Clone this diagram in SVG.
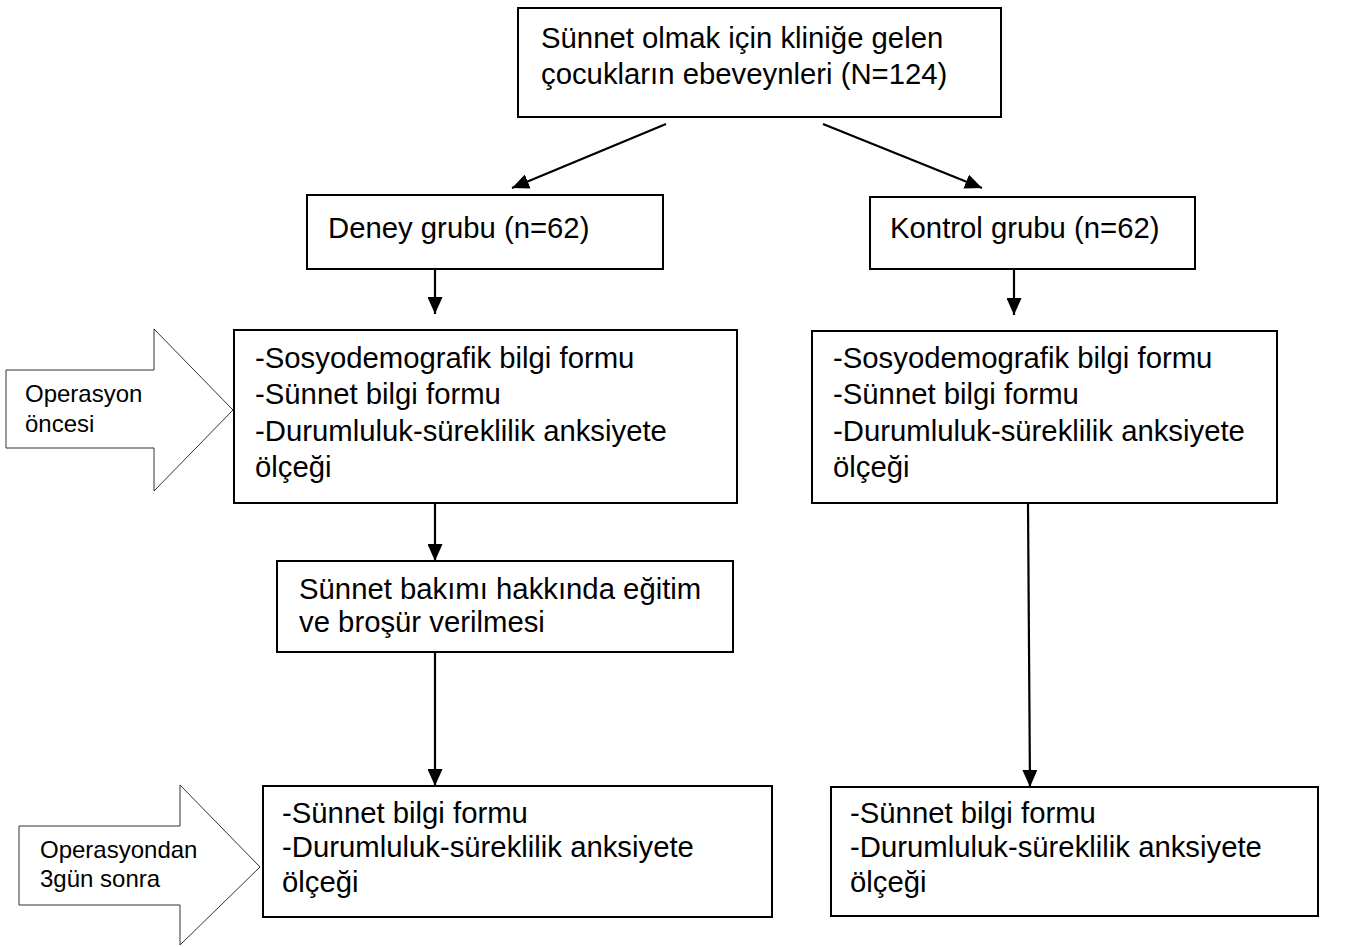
<svg xmlns="http://www.w3.org/2000/svg" width="1358" height="947" viewBox="0 0 1358 947">
<style>
.box{fill:#fff;stroke:#000;stroke-width:2}
.blk{fill:#fff;stroke:#333;stroke-width:1}
.t{font-family:"Liberation Sans",Arial,sans-serif;font-size:29.3px;fill:#000}
.s{font-family:"Liberation Sans",Arial,sans-serif;font-size:24px;fill:#000}
.c{fill:none;stroke:#000;stroke-width:2.2}
</style>
<defs>
<marker id="ah" markerUnits="userSpaceOnUse" markerWidth="17" markerHeight="15" refX="17" refY="7.5" orient="auto">
<path d="M0,0 L17,7.5 L0,15 z" fill="#000"/>
</marker>
</defs>
<rect width="1358" height="947" fill="#fff"/>
<g id="connectors">
<line class="c" x1="666" y1="124" x2="512" y2="188" marker-end="url(#ah)"/>
<line class="c" x1="823" y1="124" x2="982" y2="188" marker-end="url(#ah)"/>
<line class="c" x1="435" y1="269" x2="435" y2="314" marker-end="url(#ah)"/>
<line class="c" x1="1014" y1="270" x2="1014" y2="315" marker-end="url(#ah)"/>
<line class="c" x1="435" y1="504" x2="435" y2="561" marker-end="url(#ah)"/>
<line class="c" x1="435" y1="653" x2="435" y2="786" marker-end="url(#ah)"/>
<line class="c" x1="1028" y1="504" x2="1030" y2="787" marker-end="url(#ah)"/>
</g>
<g id="top">
<rect class="box" x="518" y="8" width="483" height="109"/>
<text class="t" x="541" y="48">Sünnet olmak için kliniğe gelen</text>
<text class="t" x="541" y="84">çocukların ebeveynleri (N=124)</text>
</g>
<g id="deney">
<rect class="box" x="307" y="195" width="356" height="74"/>
<text class="t" x="328" y="238">Deney grubu (n=62)</text>
</g>
<g id="kontrol">
<rect class="box" x="870" y="197" width="325" height="72"/>
<text class="t" x="890" y="238">Kontrol grubu (n=62)</text>
</g>
<g id="op-oncesi">
<path class="blk" d="M6,370 L154,370 L154,329 L233,410 L154,491 L154,448 L6,448 z"/>
<text class="s" x="25" y="402">Operasyon</text>
<text class="s" x="25" y="432">öncesi</text>
</g>
<g id="deney-oncesi">
<rect class="box" x="234" y="330" width="503" height="173"/>
<text class="t" x="255" y="368">-Sosyodemografik bilgi formu</text>
<text class="t" x="255" y="404">-Sünnet bilgi formu</text>
<text class="t" x="255" y="441">-Durumluluk-süreklilik anksiyete</text>
<text class="t" x="255" y="477">ölçeği</text>
</g>
<g id="kontrol-oncesi">
<rect class="box" x="812" y="331" width="465" height="172"/>
<text class="t" x="833" y="368">-Sosyodemografik bilgi formu</text>
<text class="t" x="833" y="404">-Sünnet bilgi formu</text>
<text class="t" x="833" y="441">-Durumluluk-süreklilik anksiyete</text>
<text class="t" x="833" y="477">ölçeği</text>
</g>
<g id="egitim">
<rect class="box" x="277" y="561" width="456" height="91"/>
<text class="t" x="299" y="599">Sünnet bakımı hakkında eğitim</text>
<text class="t" x="299" y="632">ve broşür verilmesi</text>
</g>
<g id="op-sonra">
<path class="blk" d="M19,826 L180,826 L180,785 L260,867 L180,945 L180,905 L19,905 z"/>
<text class="s" x="40" y="858">Operasyondan</text>
<text class="s" x="40" y="887">3gün sonra</text>
</g>
<g id="deney-sonra">
<rect class="box" x="263" y="786" width="509" height="131"/>
<text class="t" x="282" y="823">-Sünnet bilgi formu</text>
<text class="t" x="282" y="857">-Durumluluk-süreklilik anksiyete</text>
<text class="t" x="282" y="892">ölçeği</text>
</g>
<g id="kontrol-sonra">
<rect class="box" x="831" y="787" width="487" height="129"/>
<text class="t" x="850" y="823">-Sünnet bilgi formu</text>
<text class="t" x="850" y="857">-Durumluluk-süreklilik anksiyete</text>
<text class="t" x="850" y="892">ölçeği</text>
</g>
</svg>
